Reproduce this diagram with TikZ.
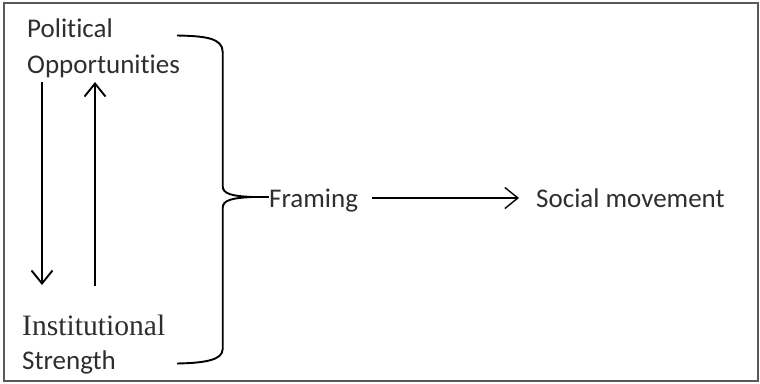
\documentclass[tikz,border=0pt]{standalone}
\usepackage{fontspec}
\setmainfont{Carlito}[Ligatures=NoCommon]
\newfontfamily\instfont{Liberation Serif}
\usetikzlibrary{arrows.meta}

\begin{document}
\begin{tikzpicture}[x=1pt,y=-1pt]
        \useasboundingbox (0,0) rectangle (760,383);
        \draw[black!65,line width=1.6pt] (4,3) rectangle (758,381);
        \begin{scope}[every node/.style={inner sep=0pt,align=left,anchor=base west,text=black!82,font=\fontsize{27}{36}\selectfont}]
            \node (1) at (27,73) {Political\\Opportunities};
            \node[font=\fontsize{27}{34}\selectfont] (2) at (22,369) {{\instfont\fontsize{29.6}{34}\selectfont Institutional}\\Strength};
            \node (3) at (269,207) {Framing};
            \node (4) at (536,207) {Social movement};
        \end{scope}

        \coordinate (5) at (42,82);
        \coordinate (6) at (42,285);
        \coordinate (7) at (95,286);
        \coordinate (8) at (95,82);
        \coordinate (9) at (252,197);

        \draw[line width=1.9pt] (177,35.5) .. controls (205,36) and (222.7,38) .. (222.7,52)
            -- (222.7,186) .. controls (222.7,194) and (232,196) .. (9)
            .. controls (232,198) and (222.7,200) .. (222.7,208)
            -- (222.7,349) .. controls (222.7,360) and (205,363) .. (177,363.5);

        \begin{scope}[every edge/.style={draw,line width=1.9pt}, >={Straight Barb[length=13pt,width=21pt]}]
            \path [->] (5) edge node {} (6);
            \path [->] (7) edge node {} (8);
            \path [-] (9) edge node {} (9 -| 3.west);
            \path [->] ([yshift=9pt]3.base east) edge[line width=1.4pt,shorten <=14pt,shorten >=17pt] node {} ([yshift=9pt]4.base west);
        \end{scope}
    \end{tikzpicture}
\end{document}
